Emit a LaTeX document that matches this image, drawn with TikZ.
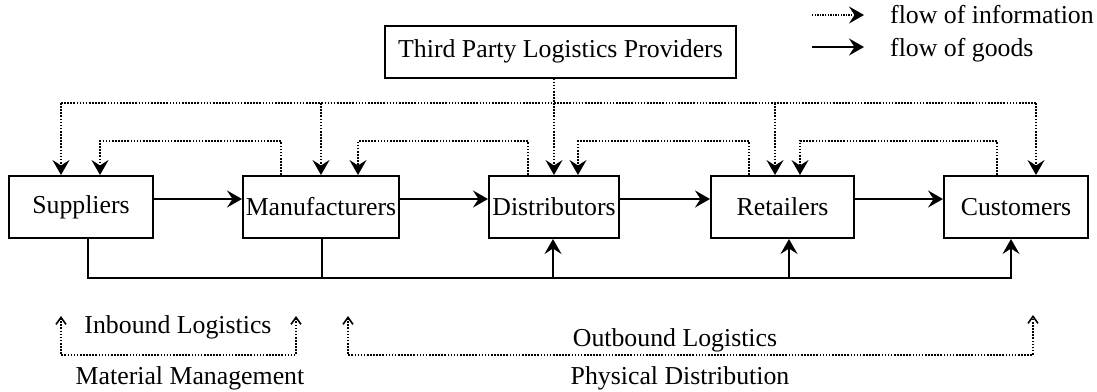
\documentclass[tikz,border=0pt]{standalone}
\usepackage{fontspec}
\setmainfont{Liberation Serif}
\usetikzlibrary{arrows.meta,calc}
\begin{document}
\begin{tikzpicture}[x=1pt,y=-1pt,
  every node/.style={font=\fontsize{25.8}{30}\selectfont},
  stagebox/.style={draw,line width=2pt,inner sep=0pt,minimum height=62pt},
  bigtip/.style={-{Stealth[length=15pt,width=17pt,inset=5.5pt]}},
  info/.style={line width=1.6pt,dash pattern=on 1.6pt off 1.5pt,bigtip},
  infoline/.style={line width=1.6pt,dash pattern=on 1.6pt off 1.5pt},
  goods/.style={line width=1.8pt,bigtip},
  goodsline/.style={line width=1.8pt},
  bracket/.style={line width=1.6pt,dash pattern=on 1.6pt off 1.5pt,
    {Straight Barb[length=7pt,width=10pt,line width=1.6pt]}-{Straight Barb[length=7pt,width=10pt,line width=1.6pt]}},
  lbl/.style={inner sep=0pt}
]
\useasboundingbox (0,0) rectangle (1097,391);

% stage boxes
\node[stagebox,minimum width=144pt] (sup) at (81,207) {Suppliers};
\node[stagebox,minimum width=156pt] (man) at (321,207) {Manufacturers};
\node[stagebox,minimum width=130pt] (dis) at (554,207) {Distributors};
\node[stagebox,minimum width=143pt] (ret) at (782.5,207) {Retailers};
\node[stagebox,minimum width=144pt] (cus) at (1016,207) {Customers};
\node[stagebox,minimum width=351pt,minimum height=52pt] (tp) at (560.5,51.5) {Third Party Logistics Providers};

% legend
\coordinate (liA) at (812,15);
\coordinate (liB) at (864,15);
\coordinate (lgA) at (812,47);
\coordinate (lgB) at (864,47);
\draw[line width=1.3pt,dash pattern=on 1.3pt off 1.3pt,bigtip] (liA) -- (liB);
\draw[goods] (lgA) -- (lgB);
\node[lbl,anchor=base west] (linfo) at (890,23) {flow of information};
\node[lbl,anchor=base west] (lgoods) at (890,56) {flow of goods};

% helper x positions
\coordinate (retIn) at ($(ret.north)+(-7.5,0)$);
\coordinate (supBot) at ($(sup.south)+(7,0)$);
\coordinate (manBot) at ($(man.south)+(1,0)$);
\coordinate (disBot) at ($(dis.south)+(-1,0)$);
\coordinate (retBot) at ($(ret.south)+(6.5,0)$);
\coordinate (cusBot) at ($(cus.south)+(-5,0)$);

% top information bus
\coordinate (busL) at (61,103);
\coordinate (busR) at (1036,103);
\draw[infoline] (busL) -- (busR);
\draw[infoline] (dis.north |- tp.south) -- (dis.north |- busL);
\draw[info] (busL) -- (busL |- sup.north);
\draw[info] (man.north |- busL) -- (man.north);
\draw[info] (dis.north |- busL) -- (dis.north);
\draw[info] (retIn |- busL) -- (retIn);
\draw[info] (busR) -- (busR |- cus.north);

% information feedback lines
\draw[info] ($(man.north west)+(39,0)$) -- ++(0,-34) -| ($(sup.north west)+(92,0)$);
\draw[info] ($(dis.north west)+(40,0)$) -- ++(0,-34) -| ($(man.north west)+(116,0)$);
\draw[info] ($(ret.north west)+(39,0)$) -- ++(0,-34) -| ($(dis.north west)+(90,0)$);
\draw[info] ($(cus.north west)+(54,0)$) -- ++(0,-34) -| ($(ret.north west)+(90,0)$);

% flow of goods
\draw[goods] ($(sup.east)+(0,-8)$) -- ($(man.west)+(0,-8)$);
\draw[goods] ($(man.east)+(0,-8)$) -- ($(dis.west)+(0,-8)$);
\draw[goods] ($(dis.east)+(0,-8)$) -- ($(ret.west)+(0,-8)$);
\draw[goods] ($(ret.east)+(0,-8)$) -- ($(cus.west)+(0,-8)$);

% bottom goods bus
\coordinate (bbus) at (0,278);
\draw[goods] (supBot) -- (supBot |- bbus) -- (cusBot |- bbus) -- (cusBot);
\draw[goodsline] (manBot) -- (manBot |- bbus);
\draw[goods] (disBot |- bbus) -- (disBot);
\draw[goods] (retBot |- bbus) -- (retBot);

% logistics brackets
\coordinate (inA) at (61,316);
\coordinate (inB) at (296,316);
\coordinate (outA) at (348,316);
\coordinate (outB) at (1033,315);
\draw[bracket] (inA) -- (61,355) -- (296,355) -- (inB);
\draw[bracket] (outA) -- (348,355) -- (1033,355) -- (outB);
\node[lbl] (inb) at (178,327) {Inbound Logistics};
\node[lbl] (mat) at (190,378) {Material Management};
\node[lbl] (outb) at (675,340) {Outbound Logistics};
\node[lbl] (phys) at (680,378) {Physical Distribution};
\end{tikzpicture}
\end{document}
